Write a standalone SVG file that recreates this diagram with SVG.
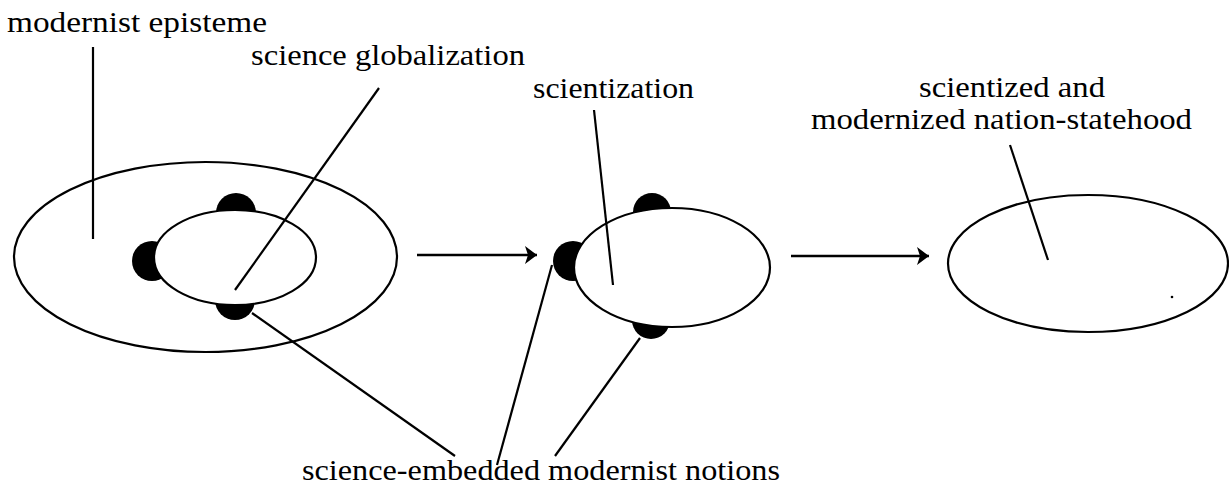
<svg xmlns="http://www.w3.org/2000/svg" width="1229" height="489" viewBox="0 0 1229 489">
<style>
  .shape { fill: #fff; stroke: #000; stroke-width: 2.2; }
  .ring { fill: none; stroke: #000; stroke-width: 2.2; }
  .blob { fill: #000; stroke: none; }
  .lbl { font-family: "Liberation Serif", "DejaVu Serif", serif; font-size: 30px; fill: #000; }
  .lead { stroke: #000; stroke-width: 2.2; fill: none; }
  .arrow { stroke: #000; stroke-width: 2.5; fill: none; marker-end: url(#ah); }
</style>
<defs>
  <marker id="ah" viewBox="0 0 12 18" refX="12" refY="9" markerWidth="12" markerHeight="18" markerUnits="userSpaceOnUse" orient="auto">
    <path d="M0,0 L12,9 L0,18 L3,9 Z" fill="#000"/>
  </marker>
</defs>
<rect width="1229" height="489" fill="#fff"/>

<g id="modernist-episteme">
  <ellipse class="ring" cx="205.5" cy="257" rx="191.5" ry="95"/>
  <text class="lbl" x="7" y="32" textLength="260" lengthAdjust="spacingAndGlyphs">modernist episteme</text>
</g>

<g id="science-globalization">
  <circle class="blob" cx="236" cy="213" r="20"/>
  <circle class="blob" cx="152" cy="261" r="20"/>
  <circle class="blob" cx="235" cy="300" r="20"/>
  <ellipse class="shape" cx="235" cy="257.5" rx="81" ry="47.5"/>
  <text class="lbl" x="251" y="65" textLength="274" lengthAdjust="spacingAndGlyphs">science globalization</text>
</g>

<g id="scientization">
  <circle class="blob" cx="652" cy="212" r="19"/>
  <circle class="blob" cx="573" cy="261" r="20"/>
  <circle class="blob" cx="651" cy="320" r="19"/>
  <ellipse class="shape" cx="672" cy="267.5" rx="98" ry="59.5"/>
  <text class="lbl" x="533" y="98" textLength="161" lengthAdjust="spacingAndGlyphs">scientization</text>
</g>

<g id="nation-statehood">
  <ellipse class="shape" cx="1088" cy="263.5" rx="140" ry="68.5"/>
  <circle cx="1172" cy="297" r="1.3" fill="#000"/>
  <text class="lbl" x="919" y="97" textLength="186" lengthAdjust="spacingAndGlyphs">scientized and</text>
  <text class="lbl" x="811" y="129" textLength="381" lengthAdjust="spacingAndGlyphs">modernized nation-statehood</text>
</g>

<g id="science-embedded-notions">
  <text class="lbl" x="302" y="480" textLength="478" lengthAdjust="spacingAndGlyphs">science-embedded modernist notions</text>
</g>

<g id="connectors">
  <line class="arrow" x1="417" y1="255" x2="537" y2="255"/>
  <line class="arrow" x1="791" y1="256" x2="929" y2="256"/>
  <line class="lead" x1="93" y1="47" x2="93" y2="239"/>
  <line class="lead" x1="379" y1="88" x2="235" y2="290"/>
  <line class="lead" x1="594" y1="110" x2="613" y2="285"/>
  <line class="lead" x1="1010" y1="145" x2="1048" y2="260"/>
  <line class="lead" x1="252" y1="313" x2="455" y2="456"/>
  <line class="lead" x1="552" y1="265" x2="497" y2="465"/>
  <line class="lead" x1="640" y1="338" x2="555" y2="456"/>
</g>
</svg>
